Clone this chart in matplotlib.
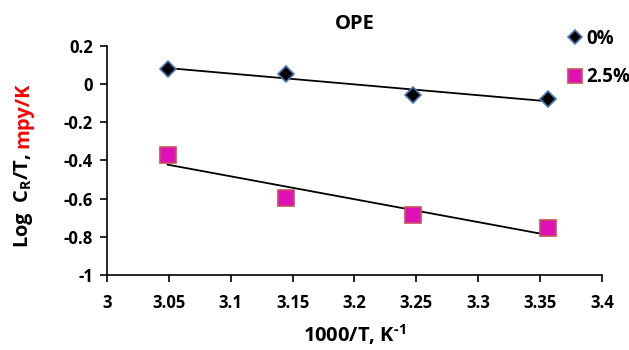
import numpy as np
import matplotlib
matplotlib.use("Agg")
import matplotlib.pyplot as plt
from matplotlib.lines import Line2D

plt.rcParams['font.family'] = ['Open Sans', 'DejaVu Sans']
plt.rcParams['font.weight'] = 'bold'
plt.rcParams['axes.labelweight'] = 'bold'
plt.rcParams['axes.titleweight'] = 'bold'
plt.rcParams['mathtext.fontset'] = 'custom'
plt.rcParams['mathtext.rm'] = 'Open Sans:bold'
plt.rcParams['mathtext.it'] = 'Open Sans:bold'
plt.rcParams['mathtext.bf'] = 'Open Sans:bold'

# Arrhenius-type data: 1000/T vs log(CR/T)
inv_T = [3.049, 3.145, 3.247, 3.356]
series_labels = ["0%", "2.5%"]
log_cr_0 = [0.079, 0.053, -0.057, -0.078]
log_cr_25 = [-0.371, -0.597, -0.686, -0.754]
x_ticks = [3, 3.05, 3.1, 3.15, 3.2, 3.25, 3.3, 3.35, 3.4]
x_tick_labels = ["3", "3.05", "3.1", "3.15", "3.2", "3.25", "3.3", "3.35", "3.4"]
y_ticks = [-1, -0.8, -0.6, -0.4, -0.2, 0, 0.2]
y_tick_labels = ["-1", "-0.8", "-0.6", "-0.4", "-0.2", "0", "0.2"]

fig = plt.figure(figsize=(6.29, 3.5), dpi=100)
ax = fig.add_axes([0.170, 0.2143, 0.787, 0.6543])

x = np.array(inv_T)
for y in (log_cr_0, log_cr_25):
    k, b = np.polyfit(x, np.array(y), 1)
    ax.plot([x[0], x[-1]], [k * x[0] + b, k * x[-1] + b], color='black', lw=1.3, zorder=2)

ax.plot(inv_T, log_cr_0, ls='none', marker='D', ms=8.5, mfc='black',
        mec='#4a7ebb', mew=1.2, zorder=3)
ax.plot(inv_T, log_cr_25, ls='none', marker='s', ms=11, mfc='#e010b8',
        mec='#c9505a', mew=1.2, zorder=3)

ax.set_xlim(3, 3.4)
ax.set_ylim(-1, 0.2)
ax.set_xticks(x_ticks)
ax.set_xticklabels(x_tick_labels)
ax.set_yticks(y_ticks)
ax.set_yticklabels(y_tick_labels)
ax.tick_params(axis='both', labelsize=12, direction='out', length=5, width=1.2)
ax.tick_params(axis='x', pad=9)
ax.tick_params(axis='y', pad=5)
for s in ('top', 'right'):
    ax.spines[s].set_visible(False)
for s in ('left', 'bottom'):
    ax.spines[s].set_linewidth(1.2)

ax.set_title("OPE", fontsize=14.5, pad=12)
ax.set_xlabel("1000/T, K$^{\\text{-1}}$", fontsize=14.5, labelpad=7)

# two-colour y label
t1 = fig.text(0.037, 0.29, "Log  C$_{R}$/T,", rotation=90, fontsize=14.5,
              ha='center', va='bottom', color='black')
fig.canvas.draw()
bb = t1.get_window_extent(fig.canvas.get_renderer()).transformed(fig.transFigure.inverted())
fig.text(0.037, bb.y1 + 0.015, "mpy/K", rotation=90, fontsize=14.5, ha='center',
         va='bottom', color='#ff0000')

handles = [
    Line2D([], [], ls='none', marker='D', ms=7, mfc='black', mec='#4a7ebb', mew=1.2),
    Line2D([], [], ls='none', marker='s', ms=10, mfc='#e010b8', mec='#c9505a', mew=1.2),
]
fig.legend(handles, series_labels, loc='upper left', bbox_to_anchor=(0.89, 0.945),
           frameon=False, fontsize=13.5, handlelength=0.6, handletextpad=0.3,
           labelspacing=1.0, borderpad=0)

fig.savefig("out.png", dpi=100)
